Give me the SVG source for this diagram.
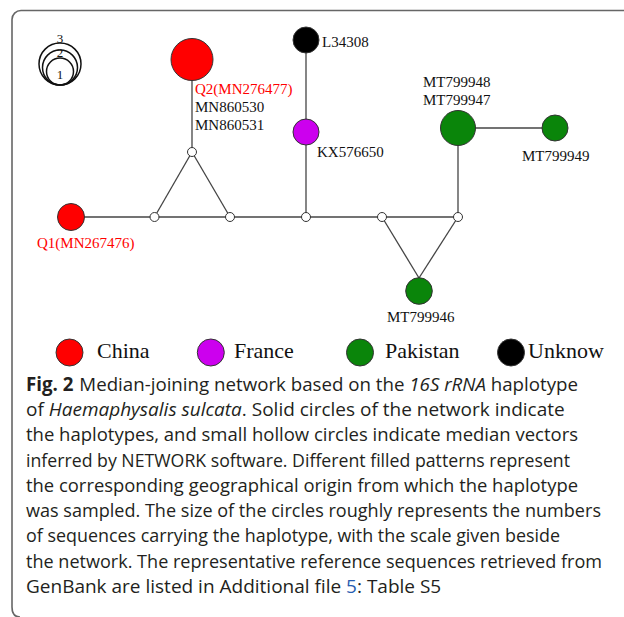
<svg xmlns="http://www.w3.org/2000/svg" width="624" height="617" viewBox="0 0 624 617">
<style>
.edge{stroke:#444;stroke-width:1.3;fill:none}
.hap{stroke:#333;stroke-width:1}
.mv{fill:#fff;stroke:#333;stroke-width:1}
.lbl{font-family:"Liberation Serif","Times New Roman",serif;font-size:15px;fill:#111}
.red{fill:#ff0000}
.leg{font-family:"Liberation Serif","Times New Roman",serif;font-size:22px;fill:#111}
.cap{font-family:"Open Sans","Noto Sans",sans-serif;font-size:19px;fill:#231f20}
.scale{fill:none;stroke:#111;stroke-width:1.5}
.sc{font-family:"Liberation Serif",serif;font-size:13px;fill:#111}
</style>
<rect width="624" height="617" fill="#fff"/>
<path d="M624,10.5 H21 A9,9 0 0 0 12,19.5 V607 Q12,617 20,617" fill="none" stroke="#666" stroke-width="1.6"/>

<g id="scale">
<circle class="scale" cx="60" cy="64" r="21"/>
<circle class="scale" cx="60" cy="67.5" r="17.5"/>
<circle class="scale" cx="60" cy="71.5" r="13.5"/>
<text class="sc" x="60" y="43" text-anchor="middle">3</text>
<text class="sc" x="60" y="57" text-anchor="middle">2</text>
<text class="sc" x="60" y="79" text-anchor="middle">1</text>
</g>

<g id="connectors">
<line class="edge" x1="192" y1="80" x2="192" y2="152"/>
<line class="edge" x1="192" y1="152" x2="154.5" y2="217"/>
<line class="edge" x1="192" y1="152" x2="230" y2="217"/>
<line class="edge" x1="84" y1="217" x2="458" y2="217"/>
<line class="edge" x1="306" y1="52" x2="306" y2="120"/>
<line class="edge" x1="306" y1="145" x2="306" y2="217"/>
<line class="edge" x1="458" y1="217" x2="458" y2="145"/>
<line class="edge" x1="475" y1="128" x2="542" y2="128"/>
<line class="edge" x1="382" y1="217" x2="419" y2="278"/>
<line class="edge" x1="458" y1="217" x2="419" y2="278"/>
</g>

<g id="Q2">
<circle class="hap" cx="192" cy="59.5" r="21" fill="#ff0000"/>
<text class="lbl red" x="195" y="94">Q2(MN276477)</text>
<text class="lbl" x="195" y="112">MN860530</text>
<text class="lbl" x="195" y="130">MN860531</text>
</g>
<g id="Q1">
<circle class="hap" cx="71" cy="217" r="13.5" fill="#ff0000"/>
<text class="lbl red" x="37" y="248">Q1(MN267476)</text>
</g>
<g id="L34308">
<circle class="hap" cx="306" cy="40" r="13" fill="#000"/>
<text class="lbl" x="322" y="47">L34308</text>
</g>
<g id="KX576650">
<circle class="hap" cx="306" cy="132" r="13" fill="#cc00ee"/>
<text class="lbl" x="317" y="157">KX576650</text>
</g>
<g id="MT799947">
<circle class="hap" cx="458" cy="128" r="17.5" fill="#0a850a"/>
<text class="lbl" x="423" y="87">MT799948</text>
<text class="lbl" x="423" y="105">MT799947</text>
</g>
<g id="MT799949">
<circle class="hap" cx="555" cy="128" r="13" fill="#0a850a"/>
<text class="lbl" x="522" y="161">MT799949</text>
</g>
<g id="MT799946">
<circle class="hap" cx="419" cy="291" r="13.3" fill="#0a850a"/>
<text class="lbl" x="387" y="322">MT799946</text>
</g>
<g id="medians">
<circle class="mv" cx="192" cy="152" r="4.5"/>
<circle class="mv" cx="154.5" cy="217" r="4.5"/>
<circle class="mv" cx="230" cy="217" r="4.5"/>
<circle class="mv" cx="306" cy="217" r="4.5"/>
<circle class="mv" cx="382" cy="217" r="4.5"/>
<circle class="mv" cx="458" cy="217" r="4.5"/>
</g>

<g id="legend">
<circle class="hap" cx="69.5" cy="352.5" r="13.5" fill="#ff0000"/>
<text class="leg" x="97" y="358">China</text>
<circle class="hap" cx="210.8" cy="352.5" r="13.5" fill="#cc00ee"/>
<text class="leg" x="234" y="358">France</text>
<circle class="hap" cx="360" cy="352.5" r="13.5" fill="#0a850a"/>
<text class="leg" x="385" y="358">Pakistan</text>
<circle class="hap" cx="511" cy="352.5" r="13.5" fill="#000"/>
<text class="leg" x="528" y="358">Unknow</text>
</g>

<g id="caption">
<text class="cap" x="26" y="391" textLength="552" lengthAdjust="spacingAndGlyphs"><tspan font-weight="bold">Fig. 2</tspan><tspan dx="6">Median-joining network based on the </tspan><tspan font-style="italic">16S rRNA</tspan> haplotype</text>
<text class="cap" x="26" y="416">of <tspan font-style="italic">Haemaphysalis sulcata</tspan>. Solid circles of the network indicate</text>
<text class="cap" x="26" y="441" textLength="552" lengthAdjust="spacingAndGlyphs">the haplotypes, and small hollow circles indicate median vectors</text>
<text class="cap" x="26" y="466.5" textLength="544" lengthAdjust="spacingAndGlyphs">inferred by NETWORK software. Different filled patterns represent</text>
<text class="cap" x="26" y="492" textLength="552" lengthAdjust="spacingAndGlyphs">the corresponding geographical origin from which the haplotype</text>
<text class="cap" x="26" y="517" textLength="575" lengthAdjust="spacingAndGlyphs">was sampled. The size of the circles roughly represents the numbers</text>
<text class="cap" x="26" y="542" textLength="534" lengthAdjust="spacingAndGlyphs">of sequences carrying the haplotype, with the scale given beside</text>
<text class="cap" x="26" y="567.5" textLength="576" lengthAdjust="spacingAndGlyphs">the network. The representative reference sequences retrieved from</text>
<text class="cap" x="26" y="593">GenBank are listed in Additional file <tspan fill="#2a5db0">5</tspan>: Table S5</text>
</g>
</svg>
